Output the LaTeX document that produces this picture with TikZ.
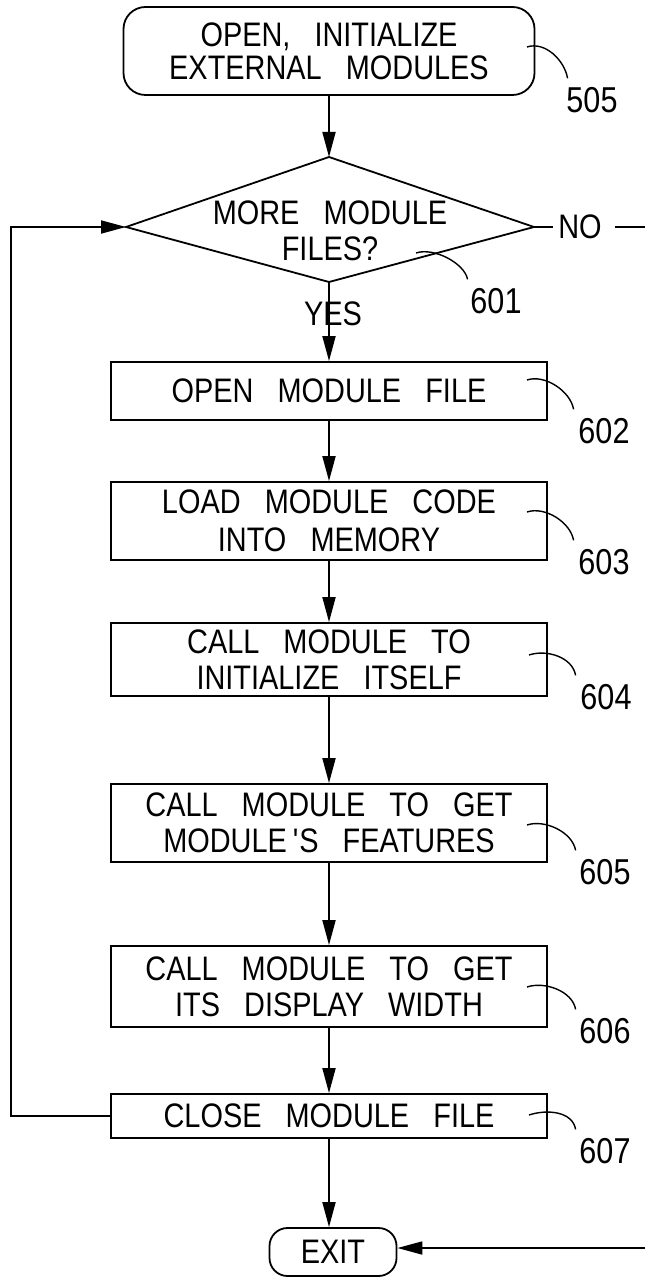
\documentclass[tikz,border=0pt]{standalone}
\usepackage{fontspec}
\setmainfont{Liberation Sans}[FakeStretch=0.85,WordSpace=3]
\usetikzlibrary{arrows.meta}
\begin{document}
\begin{tikzpicture}[x=0.5pt,y=-0.5pt,
  line width=0.9pt,
  every node/.style={font=\fontsize{17}{18}\selectfont, inner sep=0pt},
  procbox/.style={draw, rectangle, minimum width=218pt, align=center},
  term/.style={draw, rounded corners=11pt, align=center},
  lbl/.style={font=\fontsize{18}{18}\selectfont},
  leader/.style={line width=0.7pt},
  flow/.style={-{Triangle[length=12.5pt,width=6.5pt]}},
]
\useasboundingbox (0,0) rectangle (645,1277);

% start terminal
\node[term, minimum width=205.5pt, minimum height=44pt,
      font=\fontsize{17}{16.5}\selectfont] (t505) at (329,51)
  {OPEN, INITIALIZE\\EXTERNAL MODULES};

% decision diamond
\coordinate (dT) at (329,157);
\coordinate (dR) at (534,227);
\coordinate (dB) at (329,282);
\coordinate (dL) at (126,227);
\draw (dT) -- (dR) -- (dB) -- (dL) -- cycle;
\node[align=center] (d601) at (330,231) {MORE MODULE\\FILES?};

% process boxes
\node[procbox, minimum height=29pt] (b602) at (329,391) {OPEN MODULE FILE};
\node[procbox, minimum height=39pt, font=\fontsize{17}{19}\selectfont] (b603) at (329,521) {LOAD MODULE CODE\\INTO MEMORY};
\node[procbox, minimum height=36.5pt] (b604) at (329,659.5) {CALL MODULE TO\\INITIALIZE ITSELF};
\node[procbox, minimum height=39pt] (b605) at (329,823) {CALL MODULE TO GET\\MODULE\hspace{3pt}\textquotesingle S FEATURES};
\node[procbox, minimum height=40.5pt] (b606) at (329,986.5) {CALL MODULE TO GET\\ITS DISPLAY WIDTH};
\node[procbox, minimum height=22pt] (b607) at (329,1116) {CLOSE MODULE FILE};

% exit terminal
\node[term, rounded corners=9pt, minimum width=63.5pt, minimum height=24pt] (exit) at (333,1252) {EXIT};

% branch labels
\node (yes) at (333,314) {YES};
\node (no) at (580,227) {NO};
\coordinate (noR) at (645,227);
\coordinate (exR) at (645,1248);

% flow connectors
\draw[flow] (t505.south) -- (dT);
\draw[flow] (dB) -- (b602.north);
\draw[flow] (b602.south) -- (b603.north);
\draw[flow] (b603.south) -- (b604.north);
\draw[flow] (b604.south) -- (b605.north);
\draw[flow] (b605.south) -- (b606.north);
\draw[flow] (b606.south) -- (b607.north);
\draw[flow] (b607.south) -- (b607.south |- exit.north);
\draw[flow] (b607.west) -- ++(-99,0) |- (dL);
\draw (dR) -- ([xshift=-2pt]no.west);
\draw ([xshift=6pt]no.east) -- (noR);
\draw[flow] (exR) -- (exR -| exit.east);

% reference numerals
\node[lbl] (l505) at (592,100) {505};
\node[lbl] (l601) at (496,301) {601};
\node[lbl] (l602) at (604,431) {602};
\node[lbl] (l603) at (604,562) {603};
\node[lbl] (l604) at (606,697) {604};
\node[lbl] (l605) at (605,872) {605};
\node[lbl] (l606) at (605,1031) {606};
\node[lbl] (l607) at (605,1151) {607};

% leader lines
\draw[leader] (527,47) .. controls +(18,-6) and +(-3,-18) .. ([shift={(2,-8)}]l505.north west);
\draw[leader] (416,253) .. controls +(18,-6) and +(-3,-16) .. ([shift={(-2,-8)}]l601.north west);
\draw[leader] (527,380) .. controls +(18,-6) and +(-3,-18) .. ([shift={(-4,-8)}]l602.north west);
\draw[leader] (527,512) .. controls +(18,-6) and +(-3,-18) .. ([shift={(-4,-8)}]l603.north west);
\draw[leader] (529,655) .. controls +(18,-6) and +(-3,-18) .. ([shift={(-4,-8)}]l604.north west);
\draw[leader] (527,825) .. controls +(18,-6) and +(-3,-18) .. ([shift={(-3,-8)}]l605.north west);
\draw[leader] (527,987) .. controls +(18,-6) and +(-3,-18) .. ([shift={(-3,-8)}]l606.north west);
\draw[leader] (529,1115) .. controls +(18,-6) and +(-3,-18) .. ([shift={(-3,-8)}]l607.north west);
\end{tikzpicture}
\end{document}
